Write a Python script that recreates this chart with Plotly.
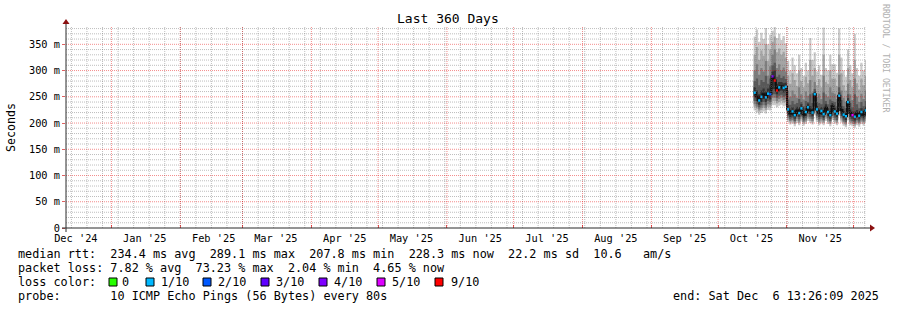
import plotly.graph_objects as go
import pandas as pd

# ---------------- data ----------------
title_text = "Last 360 Days"
graph_start = "2024-12-11 13:26:09"
graph_end = "2025-12-06 13:26:09"
first_day = "2025-10-17"

# smoke bands (ms): outer pair (min / max) ... inner pair, one value per day from Oct 17 2025
p_max = [365, 378, 355, 372, 360, 381, 350, 368, 376, 384, 362, 370, 358, 366, 352,
         318, 300, 325, 310, 295, 330, 305, 290, 315, 300, 362, 320, 335, 298, 310, 292, 382, 305,
         300, 330, 312, 312, 296, 380, 325, 300, 288, 340, 310, 295, 370, 305, 290, 315, 300, 320]
hi2 = [330, 345, 320, 338, 328, 350, 318, 340, 355, 365, 335, 342, 330, 336, 325,
       290, 275, 295, 282, 270, 300, 280, 268, 288, 276, 320, 290, 305, 272, 284, 268, 330, 278,
       275, 300, 285, 285, 270, 330, 295, 272, 262, 305, 282, 268, 320, 276, 264, 285, 272, 290]
hi3 = [300, 312, 292, 305, 298, 318, 290, 308, 330, 340, 305, 312, 300, 306, 298,
       262, 250, 262, 255, 248, 268, 255, 245, 260, 252, 282, 258, 278, 250, 256, 246, 290, 255,
       250, 268, 258, 256, 246, 292, 262, 248, 240, 275, 255, 244, 285, 250, 240, 256, 246, 262]
hi4 = [280, 285, 272, 282, 278, 290, 275, 285, 310, 315, 288, 292, 286, 289, 284,
       245, 235, 242, 236, 238, 246, 240, 232, 242, 240, 255, 238, 265, 240, 238, 236, 258, 242,
       236, 245, 242, 240, 232, 268, 244, 232, 228, 255, 238, 230, 255, 236, 228, 240, 232, 242]
hi5 = [268, 262, 255, 262, 266, 260, 266, 272, 298, 300, 275, 278, 278, 276, 277,
       234, 225, 230, 222, 231, 227, 236, 223, 228, 237, 232, 227, 260, 233, 226, 230, 224, 236,
       228, 222, 238, 229, 225, 258, 232, 223, 220, 247, 226, 222, 222, 225, 221, 228, 223, 231]
lo5 = [250, 242, 235, 240, 246, 240, 248, 245, 265, 265, 255, 260, 262, 258, 260,
       219, 211, 215, 208, 217, 212, 221, 209, 214, 223, 217, 213, 248, 219, 212, 216, 210, 222,
       214, 208, 225, 215, 211, 245, 218, 209, 206, 232, 212, 208, 205, 211, 207, 214, 209, 217]
lo4 = [242, 236, 230, 234, 240, 234, 242, 240, 255, 255, 248, 252, 254, 250, 252,
       214, 207, 210, 204, 212, 207, 216, 205, 209, 217, 212, 208, 240, 214, 207, 211, 206, 217,
       209, 204, 219, 210, 206, 238, 213, 205, 202, 225, 207, 204, 201, 206, 203, 209, 205, 212]
lo3 = [236, 231, 226, 229, 234, 229, 236, 235, 248, 248, 242, 246, 248, 244, 246,
       210, 204, 206, 201, 208, 203, 211, 202, 205, 212, 208, 204, 232, 210, 203, 207, 203, 212,
       205, 201, 214, 206, 203, 230, 209, 202, 199, 218, 203, 201, 198, 203, 200, 205, 202, 208]
lo2 = [231, 227, 222, 225, 229, 225, 231, 230, 242, 242, 237, 240, 242, 239, 240,
       206, 201, 203, 198, 204, 200, 207, 199, 202, 208, 204, 201, 224, 206, 200, 203, 200, 208,
       202, 198, 210, 203, 200, 222, 205, 199, 196, 212, 200, 198, 195, 200, 197, 202, 199, 204]
p_min = [224, 220, 216, 219, 222, 218, 225, 224, 234, 234, 230, 233, 235, 232, 233,
         202, 197, 199, 194, 200, 196, 203, 195, 198, 204, 200, 197, 215, 202, 196, 199, 196, 204,
         198, 194, 206, 199, 196, 214, 201, 195, 192, 205, 196, 194, 191, 196, 193, 198, 195, 200]
median = [258, 250, 243, 250, 255, 249, 256, 255, 289, 281, 262, 268, 270, 267, 269,
          226, 218, 222, 215, 224, 219, 228, 216, 221, 230, 224, 220, 255, 226, 219, 223, 217, 229,
          221, 215, 232, 222, 218, 252, 225, 216, 213, 240, 219, 215, 212, 218, 214, 221, 216, 224]
# loss bucket per day (index into loss_labels), -1 = no coloured segment
loss_bucket = [1, -1, 1, 1, -1, 1, 1, 2, 4, 6, 6, 1, -1, 1, 1,
               1, -1, 1, 1, -1, 1, 1, -1, 1, 1, -1, 1, 1, 1, -1, 1, 1, -1,
               1, 1, -1, 1, 1, 1, -1, 1, 1, 1, -1, 5, 1, -1, 1, 1, -1, 1]

loss_labels = ["0", "1/10", "2/10", "3/10", "4/10", "5/10", "9/10"]
loss_colors = ["#26ff00", "#00b8ff", "#0059ff", "#5e00ff", "#7e00ff", "#dd00ff", "#ff0000"]
smoke_colors = ["#cacaca", "#a4a4a4", "#7e7e7e", "#585858", "#323232"]

y_ticks = [0, 50, 100, 150, 200, 250, 300, 350]
y_ticktext = ["0", "50 m", "100 m", "150 m", "200 m", "250 m", "300 m", "350 m"]
y_minor = [10, 20, 30, 40, 60, 70, 80, 90, 110, 120, 130, 140, 160, 170, 180, 190,
           210, 220, 230, 240, 260, 270, 280, 290, 310, 320, 330, 340, 360, 370, 380]
y_top = 383

legend_rows = [
    "median rtt:  234.4 ms avg  289.1 ms max  207.8 ms min  228.3 ms now  22.2 ms sd  10.6   am/s",
    "packet loss: 7.82 % avg  73.23 % max  2.04 % min  4.65 % now",
    "loss color:",
    "probe:       10 ICMP Echo Pings (56 Bytes) every 80s",
]
end_text = "end: Sat Dec  6 13:26:09 2025"
watermark = "RRDTOOL / TOBI OETIKER"
y_title = "Seconds"

# ---------------- geometry ----------------
W, H = 897, 310
L, R, T, B = 66, 866, 27, 228   # plot area in pixels
PW, PH = R - L, B - T
MONO = "DejaVu Sans Mono"


def px(xp):
    return (xp - L) / PW


def py(yp):
    return (B - yp) / PH


def nb(s):
    return s.replace(" ", "\u00a0")


days = list(pd.date_range(first_day, periods=len(median), freq="D"))
xs = days + [pd.Timestamp(graph_end)]


def ext(a):
    return list(a) + [a[-1]]


fig = go.Figure()

# smoke
pairs = [(p_min, p_max), (lo2, hi2), (lo3, hi3), (lo4, hi4), (lo5, hi5)]
for (lo, hi), col in zip(pairs, smoke_colors):
    fig.add_trace(go.Scatter(x=xs, y=ext(lo), mode="lines", line=dict(width=0, shape="hv"),
                             hoverinfo="skip", showlegend=False))
    fig.add_trace(go.Scatter(x=xs, y=ext(hi), mode="lines", line=dict(width=0, shape="hv"),
                             fill="tonexty", fillcolor=col, hoverinfo="skip", showlegend=False))

# median (black step) + loss coloured segments
fig.add_trace(go.Scatter(x=xs, y=ext(median), mode="lines",
                         line=dict(width=2, color="#101010", shape="hv"),
                         hoverinfo="skip", showlegend=False))
for b, col in enumerate(loss_colors):
    sx, sy = [], []
    for i, lb in enumerate(loss_bucket):
        if lb == b:
            sx += [xs[i], xs[i + 1], None]
            sy += [median[i], median[i], None]
    if sx:
        fig.add_trace(go.Scatter(x=sx, y=sy, mode="lines", line=dict(width=2.5, color=col),
                                 hoverinfo="skip", showlegend=False))

# ---------------- axes ----------------
month_starts = list(pd.date_range("2025-01-01", "2025-12-01", freq="MS"))
label_months = list(pd.date_range("2024-12-01", "2025-11-01", freq="MS"))
label_pos = [d + pd.Timedelta(days=15) for d in label_months]
label_txt = [d.strftime("%b '%y") for d in label_months]
weeks = list(pd.date_range("2024-12-14", graph_end, freq="7D"))

MGRID = "rgba(229,0,0,0.45)"
GRID = "rgba(110,110,110,0.45)"
DASH = "1px,1px"

fig.update_layout(
    width=W, height=H, autosize=False,
    margin=dict(l=L, r=W - R, t=T, b=H - B, pad=0),
    paper_bgcolor="white", plot_bgcolor="white",
    font=dict(family=MONO, color="#000000"),
    showlegend=False,
    xaxis=dict(
        type="date", range=[graph_start, graph_end], showline=False, zeroline=False,
        tickmode="array", tickvals=month_starts, showticklabels=False, showgrid=False,
        ticks="inside", ticklen=3, tickcolor="#e06060", fixedrange=True,
    ),
    xaxis2=dict(
        type="date", range=[graph_start, graph_end], overlaying="x", side="bottom", anchor="y",
        tickmode="array", tickvals=label_pos, ticktext=label_txt, showgrid=False,
        showline=False, zeroline=False, ticks="", ticklabelstandoff=3,
        tickfont=dict(family=MONO, size=10.3, color="#000000"), fixedrange=True,
    ),
    yaxis=dict(
        range=[0, y_top], showline=False, zeroline=False, showgrid=False,
        tickmode="array", tickvals=y_ticks, ticktext=y_ticktext,
        tickfont=dict(family=MONO, size=10.3, color="#000000"),
        ticks="outside", ticklen=3, tickcolor="#e06060", ticklabelstandoff=0,
        fixedrange=True,
    ),
)
# dummy trace to activate xaxis2
fig.add_trace(go.Scatter(x=[graph_start], y=[None], xaxis="x2", yaxis="y",
                         mode="markers", hoverinfo="skip", showlegend=False))

# grid (rrdtool paints it over the graph)
for d in weeks:
    fig.add_shape(type="line", xref="x", yref="paper", x0=d, x1=d, y0=0, y1=1, layer="above",
                  line=dict(color=GRID, width=1, dash=DASH))
for d in month_starts:
    fig.add_shape(type="line", xref="x", yref="paper", x0=d, x1=d, y0=0, y1=1, layer="above",
                  line=dict(color=MGRID, width=1, dash=DASH))
for v in y_minor:
    fig.add_shape(type="line", xref="paper", yref="y", x0=0, x1=1, y0=v, y1=v, layer="above",
                  line=dict(color=GRID, width=1, dash=DASH))
for v in y_ticks[1:]:
    fig.add_shape(type="line", xref="paper", yref="y", x0=0, x1=1, y0=v, y1=v, layer="above",
                  line=dict(color=MGRID, width=1, dash=DASH))

# axis lines + arrows
AX = "#2a2a2a"
ARROW = "#8b1010"
fig.add_shape(type="line", xref="paper", yref="paper", x0=px(62), x1=px(871), y0=0, y1=0,
              line=dict(color=AX, width=1), layer="above")
fig.add_shape(type="line", xref="paper", yref="paper", x0=0, x1=0, y0=py(232), y1=py(23),
              line=dict(color=AX, width=1), layer="above")
fig.add_shape(type="path", xref="paper", yref="paper", xsizemode="pixel", ysizemode="pixel",
              xanchor=px(870), yanchor=0, path="M 0 -3.5 L 5 0 L 0 3.5 Z",
              fillcolor=ARROW, line=dict(width=0), layer="above")
fig.add_shape(type="path", xref="paper", yref="paper", xsizemode="pixel", ysizemode="pixel",
              xanchor=0, yanchor=py(24), path="M -3.5 0 L 0 5 L 3.5 0 Z",
              fillcolor=ARROW, line=dict(width=0), layer="above")

ann = []
ann.append(dict(text=nb(title_text), x=px(448), y=py(19), xref="paper", yref="paper",
                xanchor="center", yanchor="middle", showarrow=False,
                font=dict(family=MONO, size=13, color="#000000")))
ann.append(dict(text=y_title, x=px(11), y=py(127), xref="paper", yref="paper",
                xanchor="center", yanchor="middle", showarrow=False, textangle=-90,
                font=dict(family=MONO, size=11.6, color="#000000")))
ann.append(dict(text=nb(watermark), x=px(886), y=py(59), xref="paper", yref="paper",
                xanchor="center", yanchor="middle", showarrow=False, textangle=90,
                font=dict(family=MONO, size=8.2, color="#b0b0b0")))
row_y = [254, 268, 282, 296]
for txt, yy in zip(legend_rows, row_y):
    ann.append(dict(text=nb(txt), x=px(16), y=py(yy), xref="paper", yref="paper",
                    xanchor="left", yanchor="middle", showarrow=False,
                    font=dict(family=MONO, size=11.8, color="#000000")))
ann.append(dict(text=nb(end_text), x=px(881), y=py(296), xref="paper", yref="paper",
                xanchor="right", yanchor="middle", showarrow=False,
                font=dict(family=MONO, size=11.8, color="#000000")))

sw_x = [109, 146, 203, 261, 319, 377, 435]
lab_x = [120, 158.5, 216, 274, 332, 390, 449]
for sx, lx, lab, col in zip(sw_x, lab_x, loss_labels, loss_colors):
    fig.add_shape(type="rect", xref="paper", yref="paper", x0=px(sx), x1=px(sx + 8),
                  y0=py(286), y1=py(278), fillcolor=col, line=dict(color="#000000", width=1))
    ann.append(dict(text=nb(lab), x=px(lx), y=py(282), xref="paper", yref="paper",
                    xanchor="left", yanchor="middle", showarrow=False,
                    font=dict(family=MONO, size=11.8, color="#000000")))
fig.update_layout(annotations=ann)

fig.write_html("out.html")
